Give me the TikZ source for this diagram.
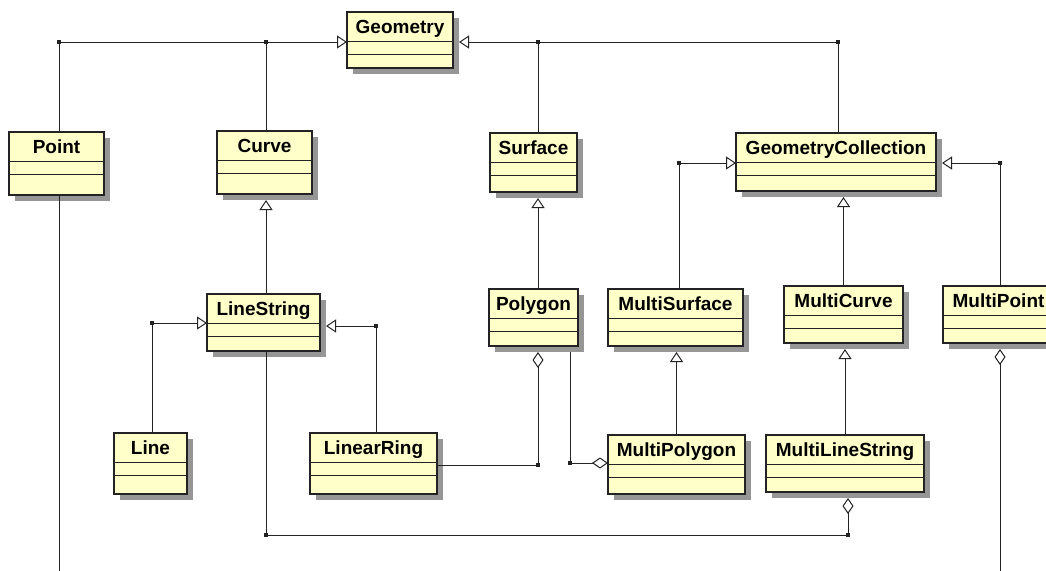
\documentclass[tikz,border=0pt]{standalone}
\usepackage{fontspec}
\setmainfont{Liberation Sans}
\usetikzlibrary{arrows.meta,calc}

\definecolor{classfill}{RGB}{255,255,202}
\definecolor{shadowgray}{RGB}{150,150,150}
\definecolor{ink}{RGB}{35,35,35}

\tikzset{
  classbox/.style={draw=ink, fill=classfill, line width=1.2pt, inner sep=0pt, outer sep=0pt},
  boxrule/.style={draw=ink, line width=1pt},
  classname/.style={anchor=base, inner sep=0pt, font=\fontsize{19}{22}\selectfont\bfseries},
  conn/.style={draw=ink, line width=1pt},
  inh/.style={conn, -{Triangle[width=13pt, length=10pt, fill=white]}},
  agg/.style={conn, -{Diamond[width=11pt, length=16pt, fill=white]}},
  junction/.style={rectangle, fill=ink, inner sep=0pt, minimum size=4pt},
}

% UML class: name, left, top, right, bottom (pixels from the top left), title
\newcommand\umlclass[6]{%
  \fill[shadowgray] (#2+6,-#3-6) rectangle (#4+6,-#5-6);
  \node[classbox, minimum width={(#4-#2)*1pt}, minimum height={(#5-#3)*1pt}, anchor=north west] (#1) at (#2,-#3) {};
  \draw[boxrule] ($(#1.north west)+(0,-29)$) -- ($(#1.north east)+(0,-29)$);
  \draw[boxrule] ($(#1.north west)+(0,-42)$) -- ($(#1.north east)+(0,-42)$);
  \node[classname] (#1-name) at ($(#1.north)+(0,-21)$) {#6};
}

\begin{document}
\begin{tikzpicture}[x=1pt,y=1pt]
  \useasboundingbox (0,0) rectangle (1046,-570);
  \fill[white] (0,0) rectangle (1046,-570);
  \clip (0,0) rectangle (1046,-570);

  % classes
  \umlclass{geom}{347}{12}{453}{68}{Geometry}
  \umlclass{point}{9}{132}{104}{195}{Point}
  \umlclass{curve}{217}{131}{312}{194}{Curve}
  \umlclass{surf}{490}{133}{577}{192}{Surface}
  \umlclass{gc}{736}{133}{936}{191}{GeometryCollection}
  \umlclass{ls}{207}{294}{320}{351}{LineString}
  \umlclass{poly}{489}{289}{578}{346}{Polygon}
  \umlclass{msurf}{608}{289}{743}{346}{MultiSurface}
  \umlclass{mcurve}{784}{286}{903}{343}{MultiCurve}
  \umlclass{mpt}{943}{286}{1054}{343}{MultiPoint}
  \umlclass{line}{114}{433}{187}{494}{Line}
  \umlclass{lring}{310}{433}{437}{494}{LinearRing}
  \umlclass{mpoly}{608}{435}{745}{494}{MultiPolygon}
  \umlclass{mls}{766}{435}{924}{492}{MultiLineString}

  % junction points
  \coordinate (jP) at (59,-42);
  \coordinate (jC) at (266,-42);
  \coordinate (jS) at (538,-42);
  \coordinate (jGC) at (838,-42);
  \coordinate (jL) at (152,-323);
  \coordinate (jR) at (376,-326);
  \coordinate (jMS) at (679,-163);
  \coordinate (jMP) at (1000,-163);
  \coordinate (jPL) at (538,-465);
  \coordinate (jPM) at (570,-463);
  \coordinate (jLS) at (266,-535);
  \coordinate (jMLS) at (848,-535);
  \coordinate (pointEnd) at (59,-575);
  \coordinate (mptEnd) at (1000,-575);

  % generalisations
  \draw[inh] (jP |- point.north) -- (jP) -- (geom.west |- jP);
  \draw[conn] (jC |- curve.north) -- (jC);
  \draw[inh] (jGC |- gc.north) -- (jGC) -- ($(geom.east |- jGC)+(6,0)$);
  \draw[conn] (jS |- surf.north) -- (jS);
  \draw[inh] (jC |- ls.north) -- ($(jC |- curve.south)+(0,-6)$);
  \draw[inh] (jL |- line.north) -- (jL) -- (ls.west |- jL);
  \draw[inh] (jR |- lring.north) -- (jR) -- ($(ls.east |- jR)+(6,0)$);
  \draw[inh] (jS |- poly.north) -- ($(jS |- surf.south)+(0,-6)$);
  \draw[inh] (jMS |- msurf.north) -- (jMS) -- (gc.west |- jMS);
  \draw[inh] (mcurve.north) -- ($(mcurve.north |- gc.south)+(0,-6)$);
  \draw[inh] (jMP |- mpt.north) -- (jMP) -- ($(gc.east |- jMP)+(6,0)$);
  \draw[inh] (mpoly.north) -- ($(mpoly.north |- msurf.south)+(0,-6)$);
  \draw[inh] (mls.north) -- ($(mls.north |- mcurve.south)+(0,-6)$);

  % aggregations
  \draw[agg] (lring.east |- jPL) -- (jPL) -- ($(jPL |- poly.south)+(0,-6)$);
  \draw[conn] ($(jPM |- poly.south)+(0,-6)$) -- (jPM);
  \draw[agg] (jPM) -- (mpoly.west |- jPM);
  \draw[conn] (jLS |- ls.south) -- (jLS) -- (jMLS);
  \draw[agg] (jMLS) -- ($(jMLS |- mls.south)+(0,-6)$);
  \draw[agg] (mptEnd) -- ($(mptEnd |- mpt.south)+(0,-6)$);
  \draw[conn] (jP |- point.south) -- (pointEnd);

  % junction dots
  \foreach \j in {jP,jC,jS,jGC,jL,jR,jMS,jMP,jPL,jPM,jLS,jMLS}
    \node[junction] at (\j) {};
\end{tikzpicture}
\end{document}
